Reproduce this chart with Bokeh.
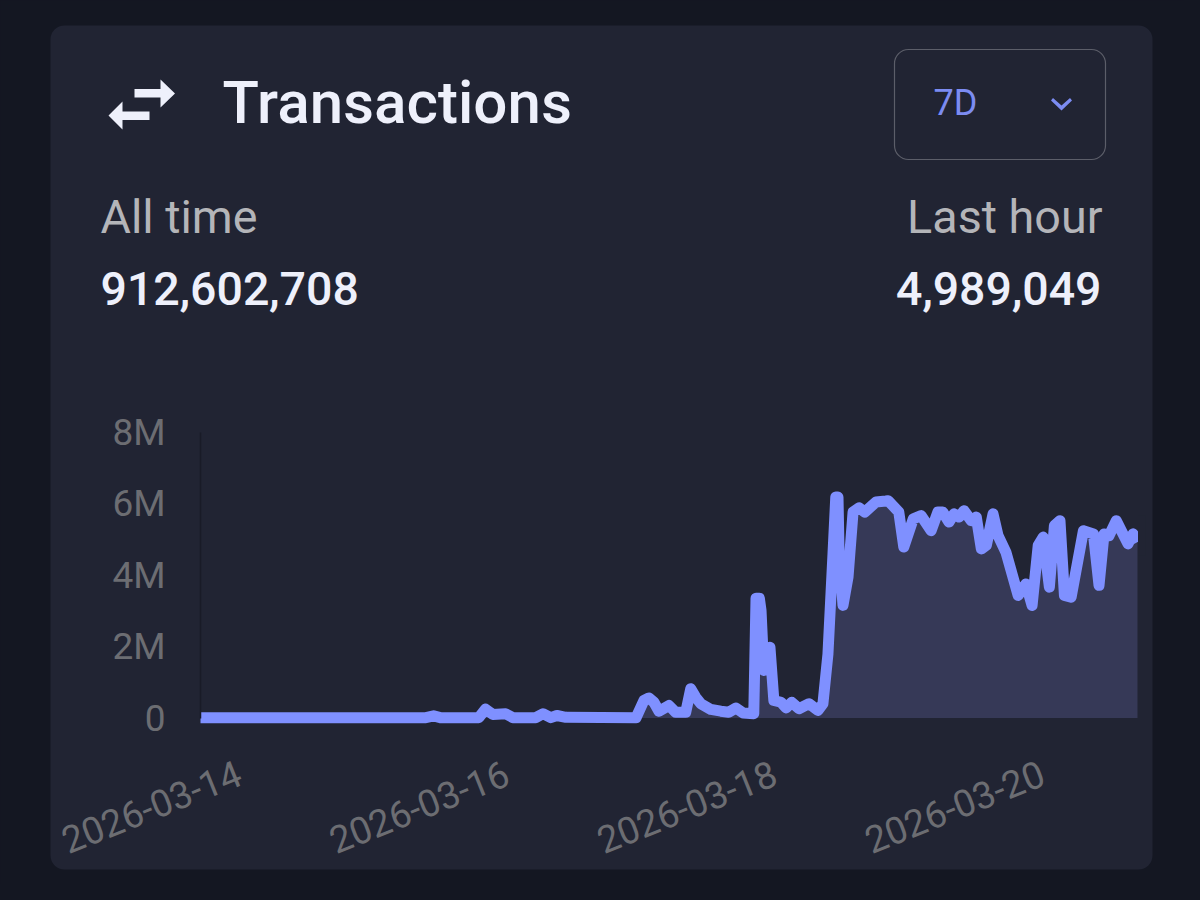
from datetime import datetime, timedelta
from bokeh.plotting import figure
from bokeh.models import (BoxAnnotation, DatetimeAxis, LinearAxis, FixedTicker,
                          DatetimeTickFormatter, Label, PolyAnnotation, Range1d)
from bokeh.embed import file_html
from bokeh.resources import INLINE

TITLE = "Transactions"
LEFT_LABEL = "All time"
LEFT_VALUE = "912,602,708"
RIGHT_LABEL = "Last hour"
RIGHT_VALUE = "4,989,049"
PERIOD = "7D"

START = datetime(2026, 3, 14)
END = datetime(2026, 3, 21)
date_ticks = [datetime(2026, 3, 14), datetime(2026, 3, 16), datetime(2026, 3, 18), datetime(2026, 3, 20)]
y_ticks = [0, 2, 4, 6, 8]
y_tick_labels = ["0", "2M", "4M", "6M", "8M"]

# hours since 2026-03-14 00:00
hours = [0, 40.4, 41.8, 43, 49.9, 51.1, 52.4, 54.7, 56, 60.1, 61.4, 62.8, 63.9, 65.5, 78.1,
         79.5, 80.4, 81.3, 82.2, 84, 85.2, 87, 87.9, 88.8, 89.7, 91.5, 93.3, 94.7, 96, 97.3,
         99.2, 99.6, 100.2, 100.5, 101, 102.1, 102.8, 104.1, 105, 106, 107.3, 109.1, 110.7, 111.6,
         112.5, 113.4, 113.9, 114.3, 114.5, 115.2, 116.1, 117, 118.1, 119.1, 121.1, 122.9,
         123.3, 125.2, 126.1, 127.8, 129.2, 131, 132.2, 133.1, 134.2, 135.1, 136, 136.9,
         138.2, 139.1, 140, 140.9, 142.1, 143, 144.4, 146.6, 148, 149.1, 150.2, 151.1,
         152.2, 153.1, 154.1, 154.9, 156.1, 158.3, 160.1, 161.1, 162, 162.9, 164.2, 166.3,
         167.2, 168]
# transactions per hour, millions
txs = [0.01, 0.01, 0.06, 0.01, 0.01, 0.25, 0.1, 0.12, 0.01, 0.01, 0.12, 0.01, 0.07, 0.02, 0.01,
       0.49, 0.56, 0.44, 0.19, 0.35, 0.16, 0.16, 0.82, 0.58, 0.40, 0.24, 0.19, 0.16, 0.28, 0.14,
       0.12, 3.35, 3.35, 3.01, 1.33, 1.98, 0.49, 0.44, 0.28, 0.44, 0.26, 0.40, 0.21, 0.40,
       1.79, 4.59, 6.18, 6.18, 4.59, 3.15, 3.94, 5.76, 5.88, 5.76, 6.04, 6.07,
       6.08, 5.76, 4.78, 5.57, 5.66, 5.24, 5.76, 5.76, 5.48, 5.71, 5.62, 5.80,
       5.52, 5.62, 4.73, 4.83, 5.71, 5.10, 4.64, 3.43, 3.75, 3.15, 4.83, 5.06,
       3.66, 5.38, 5.52, 3.43, 3.38, 5.24, 5.15, 3.71, 5.15, 5.10, 5.52, 4.87,
       5.15, 4.92]
times = [START + timedelta(hours=h) for h in hours]

BG = "#141722"
CARD = "#212433"
LINE = "#7f90ff"
FILL = "#363957"
TITLE_C = "#eef0fb"
MUTED = "#b4b5b9"
TICK_C = "#6c6d72"
ACCENT = "#7c8cf2"
MEDIUM = '"Roboto Medium", Roboto'

W, H = 1184, 884
PLOT_L, PLOT_R, ZERO_Y, PX_PER_M = 200, 1137, 717.5, 35.75
PX_PER_HOUR = (PLOT_R - PLOT_L) / 168
LABEL_SHIFT = 39  # px: rotated tick labels sit right of their tick


def x_range_at(offset_px):
    return Range1d(START - timedelta(hours=(PLOT_L + offset_px) / PX_PER_HOUR),
                   START + timedelta(hours=(W - PLOT_L - offset_px) / PX_PER_HOUR))


p = figure(width=W, height=H, output_backend="svg", toolbar_location=None,
           x_range=x_range_at(0),
           y_range=Range1d((ZERO_Y - H) / PX_PER_M, ZERO_Y / PX_PER_M),
           x_axis_location=None, y_axis_location=None,
           min_border=0, min_border_left=0, min_border_right=0, min_border_top=0, min_border_bottom=0)
p.extra_x_ranges = {"labels": x_range_at(LABEL_SHIFT)}
p.background_fill_color = BG
p.border_fill_color = BG
p.outline_line_color = None
p.grid.visible = False


def box(l, t, r, b, **kw):
    p.add_layout(BoxAnnotation(left=l, right=r, top=t, bottom=b,
                               left_units="canvas", right_units="canvas",
                               top_units="canvas", bottom_units="canvas",
                               editable=False, **kw))


box(50, 25, 1152, 869, fill_color=CARD, fill_alpha=1, line_color=None, border_radius=14, level="underlay")
box(894, 49, 1105, 159, fill_alpha=0, line_color="#5c5e69", line_alpha=1, line_width=1.2, border_radius=14)


def poly(pts, color):
    p.add_layout(PolyAnnotation(xs=[a for a, _ in pts], ys=[b for _, b in pts],
                                xs_units="canvas", ys_units="canvas",
                                fill_color=color, fill_alpha=1, line_color=None, editable=False))


poly([(134, 88.5), (160, 88.5), (160, 79), (174.5, 93), (160, 107), (160, 97), (134, 97)], TITLE_C)
poly([(149, 111), (122, 111), (122, 101), (108, 115), (122, 129), (122, 119.5), (149, 119.5)], TITLE_C)
poly([(1052.5, 97.5), (1061, 105), (1069.5, 97.5), (1071.5, 100), (1061, 110), (1050.5, 100)], ACCENT)


def text(x, y, s, size, color, font="Roboto", align="left"):
    # 0.37 * size: distance at which the renderer draws this baseline below the anchor
    p.add_layout(Label(x=x, y=y - 0.37 * size, x_units="canvas", y_units="canvas", text=s,
                       text_font=font, text_font_size=f"{size}px", text_color=color,
                       text_align=align, text_baseline="alphabetic"))


text(222, 124, TITLE, 60, TITLE_C, MEDIUM)
text(100, 234, LEFT_LABEL, 46.7, MUTED)
text(100, 305, LEFT_VALUE, 46.5, TITLE_C, MEDIUM)
text(1102, 234, RIGHT_LABEL, 46.7, MUTED, align="right")
text(1101, 305, RIGHT_VALUE, 46.5, TITLE_C, MEDIUM, align="right")
text(933, 116, PERIOD, 36, ACCENT)

p.varea(x=times, y1=[0] * len(times), y2=txs, fill_color=FILL, fill_alpha=1)
p.line(x=times, y=txs, line_color=LINE, line_width=11, line_join="round")
# the plot area cuts the line off vertically at its right edge
box(PLOT_R + 0.5, 515, PLOT_R + 8, 555, fill_color=CARD, fill_alpha=1, line_color=None)

xa = DatetimeAxis(x_range_name="labels", fixed_location=0)
xa.ticker = FixedTicker(ticks=[d.timestamp() * 1000 for d in date_ticks])
xa.formatter = DatetimeTickFormatter(days="%Y-%m-%d", hours="%Y-%m-%d", months="%Y-%m-%d",
                                     context=None)
xa.axis_line_color = None
xa.major_tick_line_color = None
xa.minor_tick_line_color = None
xa.major_label_orientation = 0.38
xa.major_label_text_font = "Roboto"
xa.major_label_text_font_size = "37.5px"
xa.major_label_text_color = TICK_C
xa.major_label_standoff = 48
p.add_layout(xa, "below")

ya = LinearAxis(fixed_location=START.timestamp() * 1000)
ya.ticker = FixedTicker(ticks=y_ticks)
ya.major_label_overrides = dict(zip(y_ticks, y_tick_labels))
ya.bounds = (0, 8)
ya.axis_line_color = "#191b27"
ya.axis_line_width = 1.5
ya.major_tick_line_color = None
ya.minor_tick_line_color = None
ya.major_label_text_font = "Roboto"
ya.major_label_text_font_size = "37px"
ya.major_label_text_color = TICK_C
ya.major_label_standoff = 29
p.add_layout(ya, "left")

TEMPLATE = """{% block preamble %}<style>html,body{margin:0;background:""" + BG + """;}</style>{% endblock %}
"""
open("out.html", "w").write(file_html(p, INLINE, template=TEMPLATE))
